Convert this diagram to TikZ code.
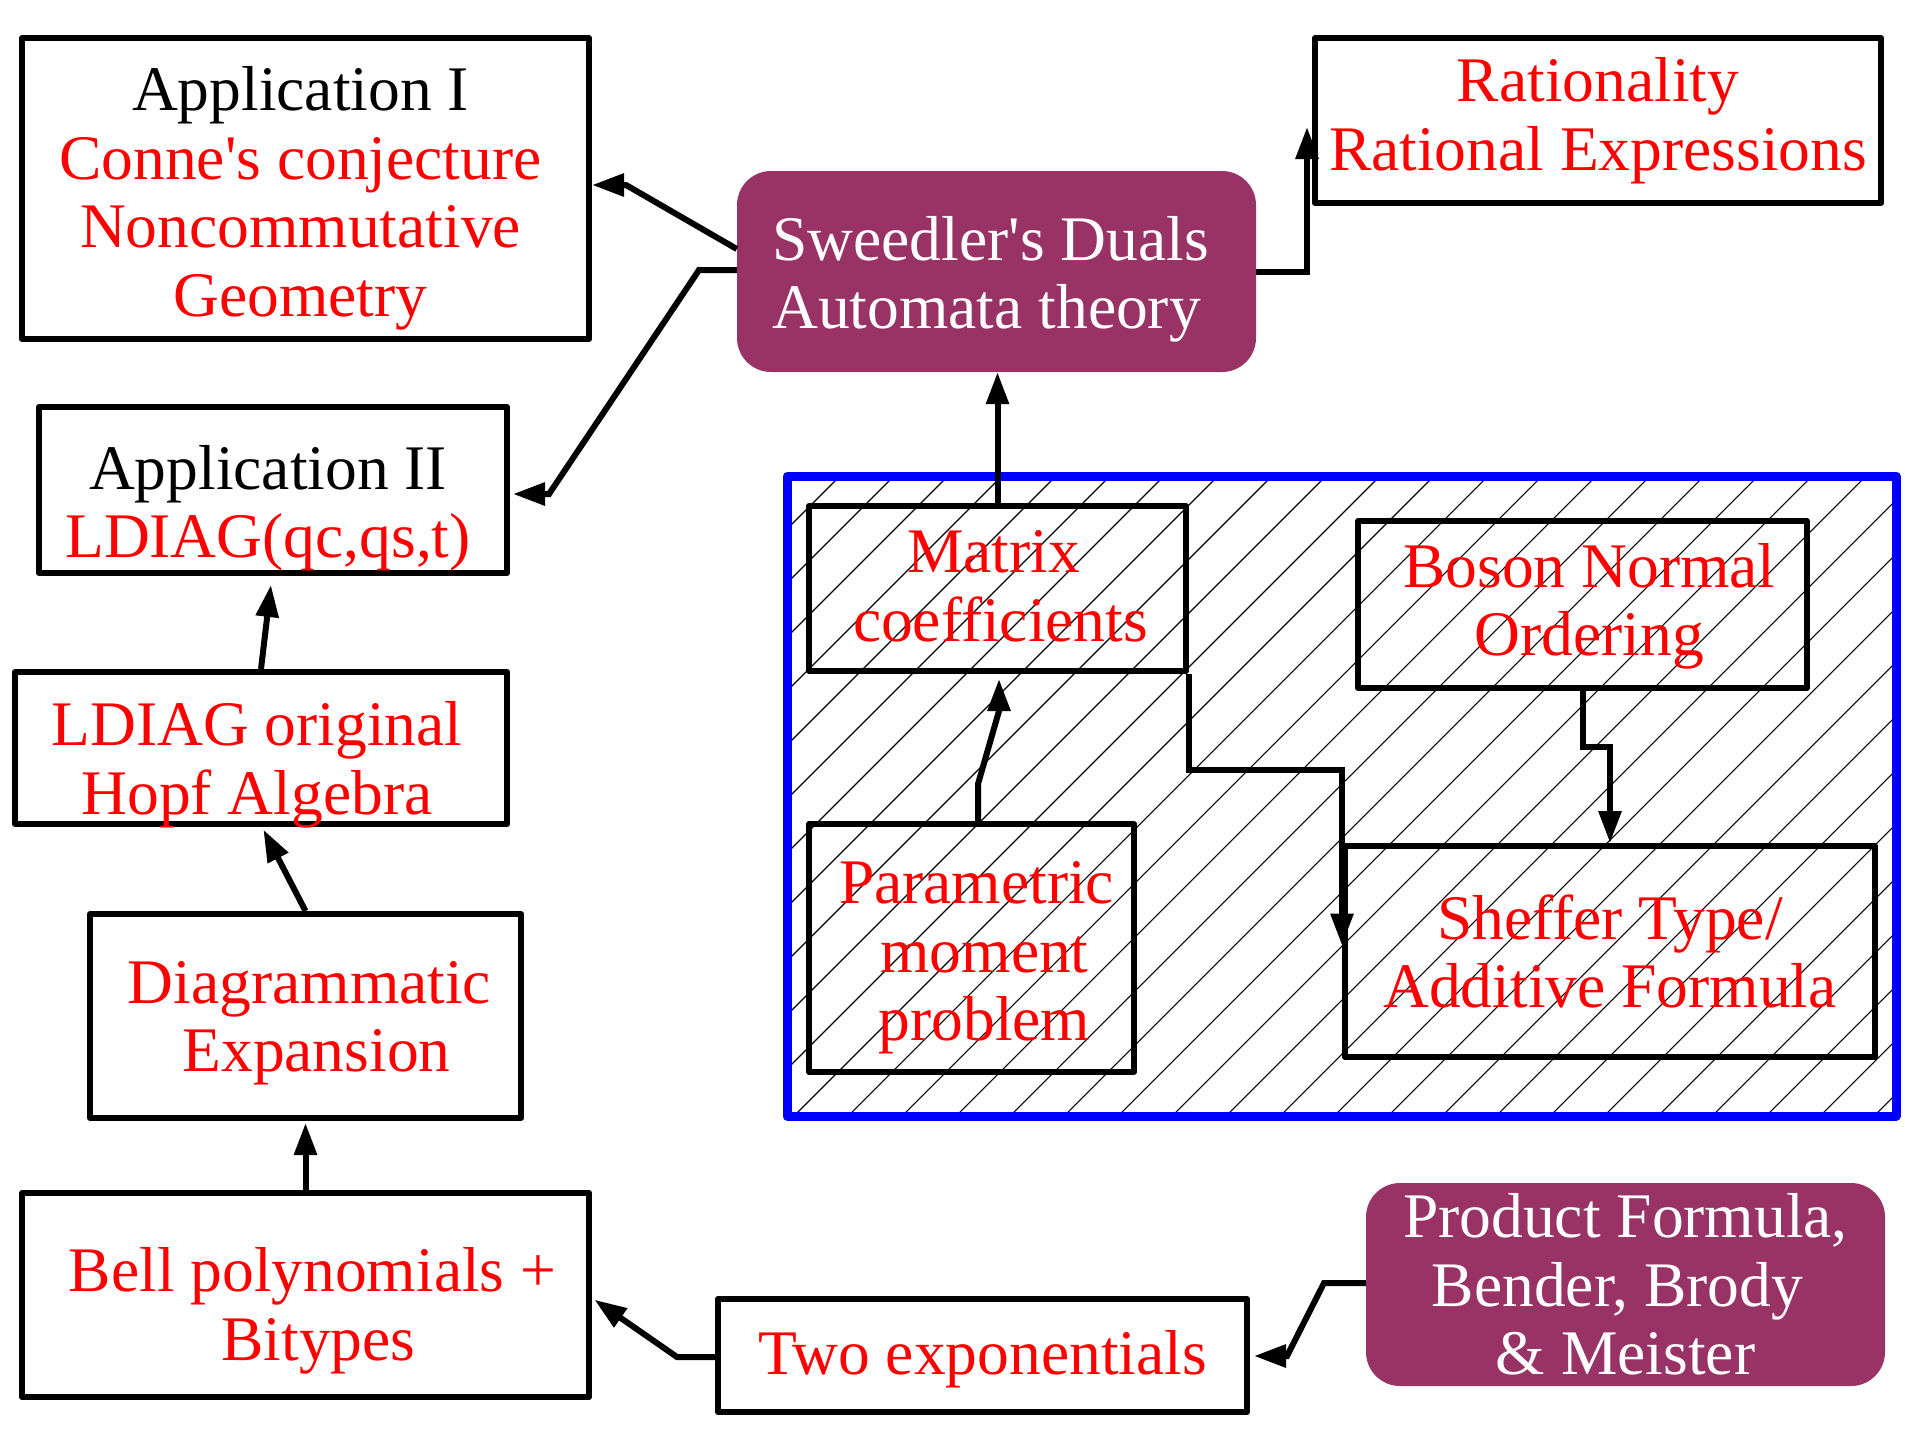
\documentclass[tikz,border=0pt]{standalone}
\usepackage{fontspec}
\setmainfont{Liberation Serif}
\usetikzlibrary{arrows.meta}
\definecolor{plum}{RGB}{153,51,102}
\begin{document}
\begin{tikzpicture}[x=1pt,y=-1pt,
  txt/.style={font=\fontsize{63.5}{68.5}\selectfont, align=center, inner sep=0pt, text=red},
  wtxt/.style={txt, text=white},
  box/.style={draw=black, line width=6pt, line join=round, rectangle, inner sep=0pt},
  pbox/.style={fill=plum, rounded corners=34pt, rectangle, inner sep=0pt},
  conn/.style={draw=black, line width=6pt, line join=miter, -{Triangle[length=32pt,width=22pt]}}]
\useasboundingbox (0,0) rectangle (1905,1440);
% hatching inside the blue frame
\begin{scope}
  \clip (787,476) rectangle (1896,1116);
  \foreach \k in {-1,...,33} {
    \pgfmathsetmacro\c{1316+54*\k}
    \draw[line width=1.1pt] (\c-476,476) -- (\c-1116,1116);
  }
\end{scope}
\node[draw=blue, line width=9pt, line join=round, minimum width=1109pt, minimum height=640pt, inner sep=0pt] (frame) at (1341.5,796) {};
% boxes
\node[box, minimum width=567pt, minimum height=301pt] (appI) at (305.5,188.5) {};
\node[box, minimum width=468pt, minimum height=166pt] (appII) at (273,490) {};
\node[box, minimum width=492pt, minimum height=152pt] (ldiag) at (261,748) {};
\node[box, minimum width=431pt, minimum height=204pt] (diag) at (305.5,1016) {};
\node[box, minimum width=567pt, minimum height=204pt] (bell) at (305.5,1295) {};
\node[box, minimum width=529pt, minimum height=113pt] (twoexp) at (982.5,1355.5) {};
\node[pbox, minimum width=519pt, minimum height=203pt] (product) at (1625.5,1284.5) {};
\node[pbox, minimum width=519pt, minimum height=201pt] (sweedler) at (996.5,271.5) {};
\node[box, minimum width=566pt, minimum height=165pt] (rational) at (1598,120.5) {};
\node[box, minimum width=377pt, minimum height=165pt] (matrix) at (997.5,588.5) {};
\node[box, minimum width=449pt, minimum height=167pt] (boson) at (1582.5,604.5) {};
\node[box, minimum width=325pt, minimum height=248pt] (param) at (971.5,948) {};
\node[box, minimum width=530pt, minimum height=211pt] (sheffer) at (1610,951.5) {};
% texts
\node[txt] (appIt) at ([xshift=-5pt,yshift=-10pt]appI.center)
  {\textcolor{black}{Application I}\\Conne\textquotesingle s conjecture\\Noncommutative\\Geometry};
\node[txt] (appIIt) at ([xshift=-5pt,yshift=-18pt]appII.center)
  {\textcolor{black}{Application II}\\LDIAG(qc,qs,t)};
\node[txt] (ldiagt) at ([xshift=-4pt,yshift=-17pt]ldiag.center)
  {LDIAG original\\Hopf Algebra};
\node[txt] (diagt) at ([xshift=4pt,yshift=-7pt]diag.center)
  {Diagrammatic\\\hspace*{14pt}Expansion};
\node[txt] (bellt) at ([xshift=7pt,yshift=-16pt]bell.center)
  {Bell polynomials +\\\hspace*{12pt}Bitypes};
\node[txt] (twoexpt) at ([yshift=-4pt]twoexp.center)
  {Two exponentials};
\node[wtxt] (productt) at (product.center)
  {Product Formula,\\Bender, Brody\hspace*{16pt}\mbox{}\\\& Meister};
\node[wtxt, align=left] (sweedlert) at ([xshift=-6pt,yshift=-8pt]sweedler.center)
  {Sweedler\textquotesingle s Duals\\Automata theory};
\node[txt] (rationalt) at (rational.center)
  {Rationality\\Rational Expressions};
\node[txt] (matrixt) at ([yshift=2pt]matrix.center)
  {Matrix\hspace*{8pt}\mbox{}\\\hspace*{6pt}coefficients};
\node[txt] (bosont) at ([xshift=7pt,yshift=-2pt]boson.center)
  {Boson Normal\\Ordering};
\node[txt] (paramt) at ([xshift=5pt,yshift=-10pt]param.center)
  {Parametric\\\hspace*{16pt}moment\\\hspace*{16pt}problem};
\node[txt] (sheffert) at (sheffer.center)
  {Sheffer Type/\\Additive Formula};
% helper coordinates
\coordinate (y185) at (0,185);
\coordinate (y249) at (0,249);
\coordinate (y270) at (0,270);
\coordinate (y272) at (0,272);
\coordinate (y494) at (0,494);
\coordinate (y747) at (0,747);
\coordinate (y770) at (0,770);
\coordinate (y1283) at (0,1283);
\coordinate (y1298) at (0,1298);
\coordinate (y1356) at (0,1356);
\coordinate (y1357) at (0,1357);
\coordinate (x262) at (262,0);
\coordinate (x272) at (272,0);
\coordinate (x978) at (978,0);
\coordinate (x999) at (999,0);
\coordinate (rtip) at (1307,127);
% connectors
\draw[conn] (sweedler.west |- y249) -- (626,185) -- (appI.east |- y185);
\draw[conn, shorten >=3pt] (sweedler.west |- y270) -- (699,270) -- (549,494) -- (appII.east |- y494);
\draw[conn] (sweedler.east |- y272) -- (rtip |- y272) -- (rtip);
\draw[conn] (matrix.north) -- (matrix.north |- sweedler.south);
\draw[conn, shorten >=5pt] (param.north -| x978) -- (978,784) -- (999,711) -- (matrix.south -| x999);
\draw[conn] (matrix.south east) -- (matrix.south east |- y770) -- (sheffer.west |- y770) -- ([yshift=6pt]sheffer.west);
\draw[conn] (boson.south) -- (boson.south |- y747) -- (sheffer.north |- y747) -- (sheffer.north);
\draw[conn, shorten >=3pt] (diag.north) -- (ldiag.south -| x262);
\draw[conn, shorten >=9pt] (ldiag.north) -- (appII.south -| x272);
\draw[conn, shorten >=2pt] (bell.north) -- (diag.south);
\draw[conn, shorten >=3pt] (twoexp.west |- y1357) -- (677,1357) -- (bell.east |- y1298);
\draw[conn, shorten >=4pt] (product.west |- y1283) -- (1324,1283) -- (1287,1356) -- (twoexp.east |- y1356);
\end{tikzpicture}
\end{document}
